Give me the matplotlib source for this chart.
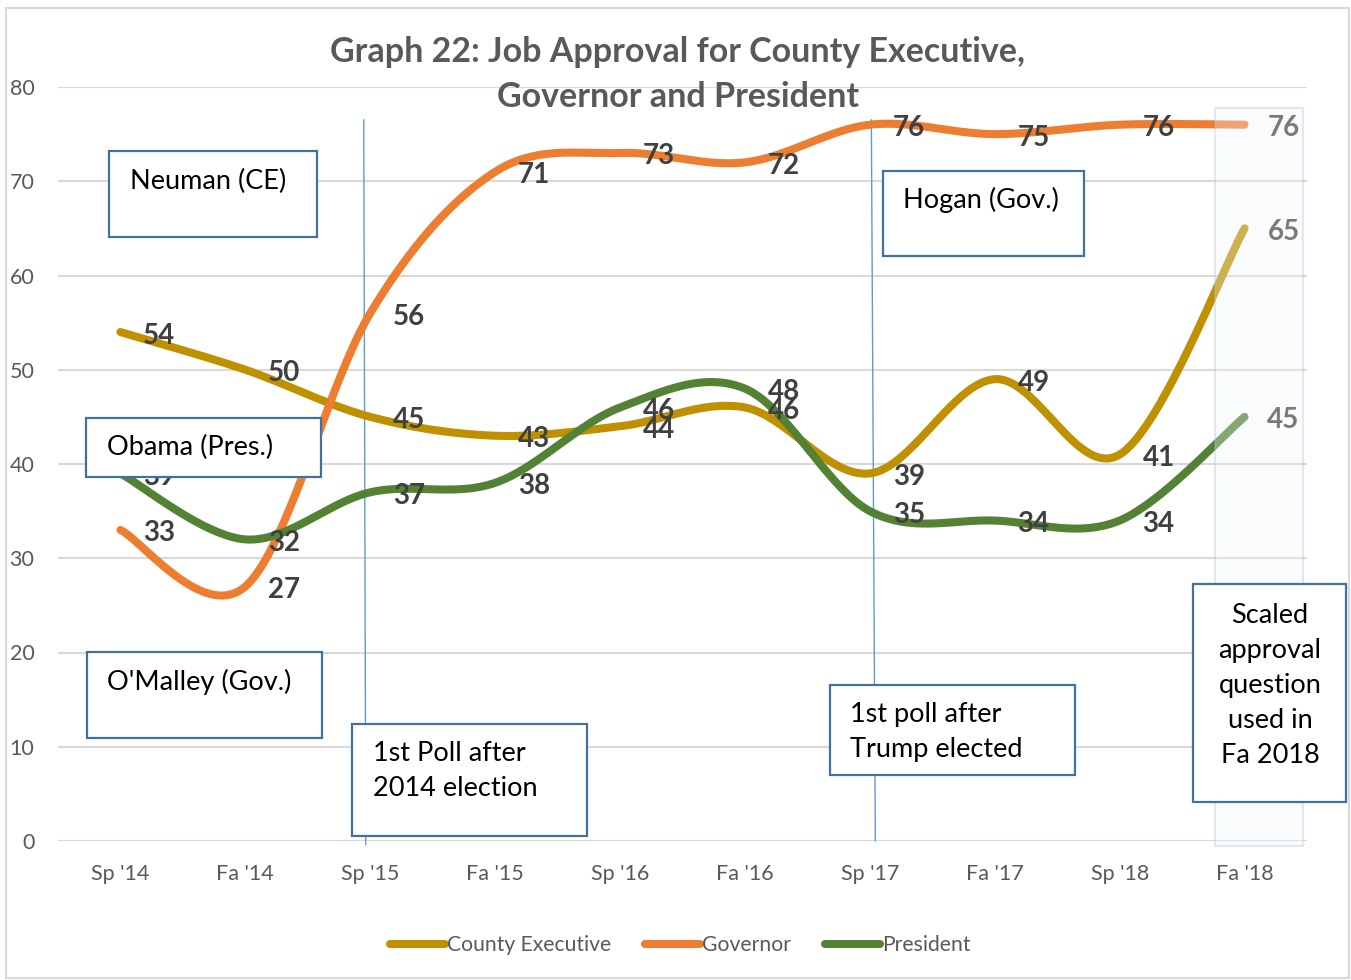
import numpy as np
import matplotlib
matplotlib.use("Agg")
import matplotlib.pyplot as plt
from matplotlib.patches import Rectangle
from matplotlib.lines import Line2D

plt.rcParams['font.family'] = ['Lato', 'DejaVu Sans']

categories = ["Sp '14", "Fa '14", "Sp '15", "Fa '15", "Sp '16", "Fa '16",
              "Sp '17", "Fa '17", "Sp '18", "Fa '18"]
county_exec = [54, 50, 45, 43, 44, 46, 39, 49, 41, 65]
governor = [33, 27, 56, 71, 73, 72, 76, 75, 76, 76]
president = [39, 32, 37, 38, 46, 48, 35, 34, 34, 45]
y_ticks = [0, 10, 20, 30, 40, 50, 60, 70, 80]

series = [("County Executive", county_exec, "#BF9000"),
          ("Governor", governor, "#ED7D31"),
          ("President", president, "#548235")]

W, H = 1351, 980
fig = plt.figure(figsize=(W / 100, H / 100), dpi=100)
fig.patch.set_facecolor("white")

def fx(px):
    return px / W

def fy(py):
    return 1 - py / H

ax = fig.add_axes([fx(58), fy(841), fx(1307) - fx(58), fy(87) - fy(841)])
ax.set_xlim(-0.5, len(categories) - 0.5)
ax.set_ylim(0, 80)
ax.set_yticks(y_ticks)
ax.set_xticks(range(len(categories)))
ax.set_xticklabels(categories)
for s in ax.spines.values():
    s.set_visible(False)
ax.tick_params(axis='both', length=0, labelsize=15.5, colors="#595959")
ax.tick_params(axis='y', pad=17)
ax.tick_params(axis='x', pad=16.5)
ax.grid(axis='y', color="#D9D9D9", linewidth=1.5)
ax.set_axisbelow(True)


def smooth(xs, ys, n=40):
    xs = np.asarray(xs, float)
    ys = np.asarray(ys, float)
    P = np.column_stack([xs, ys])
    out = [P[0]]
    for i in range(len(P) - 1):
        p0 = P[i - 1] if i > 0 else P[i]
        p1 = P[i]
        p2 = P[i + 1]
        p3 = P[i + 2] if i + 2 < len(P) else P[i + 1]
        c1 = p1 + (p2 - p0) / 6.0
        c2 = p2 - (p3 - p1) / 6.0
        t = np.linspace(0, 1, n)[1:, None]
        b = ((1 - t) ** 3) * p1 + 3 * ((1 - t) ** 2) * t * c1 + 3 * (1 - t) * t ** 2 * c2 + t ** 3 * p2
        out.extend(b)
    out = np.array(out)
    return out[:, 0], out[:, 1]

xs = np.arange(len(categories))
for name, vals, col in series:
    sx, sy = smooth(xs, vals)
    ax.plot(sx, sy, color=col, linewidth=5.8, solid_capstyle='round', zorder=3)

for name, vals, col in series:
    for i, v in enumerate(vals):
        c = "#404040"
        ax.annotate(str(v), (i, v), xytext=(28, -2.5), textcoords='offset points',
                    ha='center', va='center', fontsize=20, fontweight='bold',
                    color=c, zorder=4)

# vertical marker lines
ax.plot([1.948, 1.964], [76.5, -0.4], color="#5B9BD5", linewidth=1.0, zorder=2, clip_on=False)
ax.plot([6.012, 6.044], [76.5, 0], color="#5B9BD5", linewidth=1.0, zorder=2, clip_on=False)

# highlight rectangle over the last category
ax.add_patch(Rectangle((8.76, -0.5), 0.71, 78.3, facecolor="#EDF3F9", alpha=0.33,
                       edgecolor="#A9BED3", linewidth=1.5, zorder=5, clip_on=False))

# title
fig.text(fx(678), fy(52), "Graph 22: Job Approval for County Executive,", ha='center', va='center',
         fontsize=24.5, fontweight='bold', color="#595959")
fig.text(fx(678), fy(97), "Governor and President", ha='center', va='center',
         fontsize=24.5, fontweight='bold', color="#595959")

# annotation boxes (pixel boxes)
boxes = [
    ((109, 151, 317, 237), "Neuman (CE)", (130, 181), 'left'),
    ((86, 418, 321, 477), "Obama (Pres.)", (107, 447), 'left'),
    ((87, 652, 322, 738), "O'Malley (Gov.)", (107, 682), 'left'),
    ((352, 724, 587, 836), "1st Poll after\n2014 election", (373, 771), 'left'),
    ((883, 171, 1084, 256), "Hogan (Gov.)", (903, 200), 'left'),
    ((830, 685, 1075, 775), "1st poll after\nTrump elected", (850, 732), 'left'),
    ((1193, 584, 1346, 802), "Scaled\napproval\nquestion\nused in\nFa 2018", (1270, 685), 'center'),
]
for (x0, y0, x1, y1), txt, (tx, ty), ha in boxes:
    fig.add_artist(Rectangle((fx(x0), fy(y1)), fx(x1) - fx(x0), fy(y0) - fy(y1),
                             transform=fig.transFigure, facecolor="white",
                             edgecolor="#41719C", linewidth=1.6, zorder=10))
    fig.text(fx(tx), fy(ty), txt, ha=ha, va='center', fontsize=19.5, color="black",
             linespacing=1.5, zorder=11, multialignment=ha)

# chart border
fig.add_artist(Rectangle((fx(6), fy(978)), fx(1349) - fx(6), fy(8) - fy(978),
                         transform=fig.transFigure, facecolor='none',
                         edgecolor="#D9D9D9", linewidth=1.5, zorder=0))

# legend
handles = [Line2D([0], [0], color=c, linewidth=5.8, solid_capstyle='round') for _, _, c in series]
labels = [n for n, _, _ in series]
leg = fig.legend(handles, labels, loc='center', bbox_to_anchor=(fx(680), fy(945)), ncol=3,
                 frameon=False, fontsize=15.2, handlelength=2.6, handletextpad=0.1,
                 columnspacing=1.6, labelcolor="#595959")

fig.savefig("out.png", dpi=100, facecolor="white")
